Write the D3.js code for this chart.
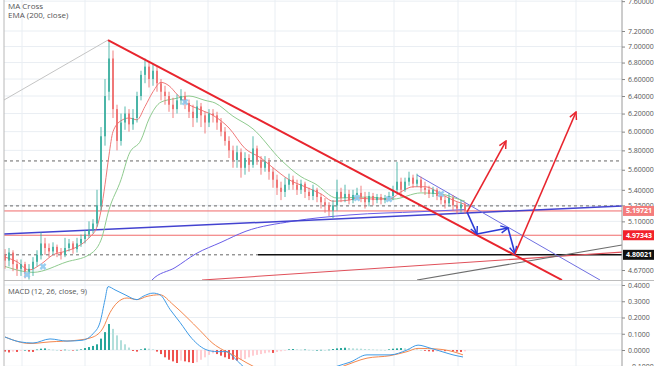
<!DOCTYPE html>
<html><head><meta charset="utf-8">
<script src="https://cdn.jsdelivr.net/npm/d3@7"></script>
<style>body{margin:0;background:#fff}svg{display:block;font-family:"Open Sans",sans-serif}</style>
</head><body><svg id="c" width="654" height="366"></svg>
<script>
// ---------- DATA ----------
const opens=[4.80,4.75,4.82,4.72,4.68,4.72,4.64,4.68,4.74,4.80,4.90,4.86,4.83,4.87,4.82,4.80,4.86,4.90,4.85,4.90,4.94,4.98,
5.02,5.08,5.25,5.95,6.45,6.85,6.25,5.90,6.10,6.20,6.08,6.15,6.40,6.65,6.75,6.60,6.70,6.55,6.45,6.40,6.30,6.25,6.35,6.40,6.32,6.22,6.15,6.28,6.18,6.10,6.20,6.18,6.10,6.00,5.90,5.80,5.70,5.78,5.62,5.72,5.65,5.82,5.70,5.62,5.68,5.58,5.50,5.42,5.38,5.45,5.50,5.45,5.40,5.46,5.38,5.34,5.40,5.33,5.28,5.25,5.20,5.25,5.38,5.32,5.36,5.30,5.35,5.37,5.33,5.28,5.34,5.30,5.33,5.30,5.32,5.34,5.40,5.48,5.40,5.48,5.52,5.46,5.50,5.42,5.40,5.36,5.40,5.34,5.30,5.27,5.32,5.25,5.22,5.26];
const closes=[4.75,4.82,4.72,4.68,4.72,4.64,4.68,4.74,4.80,4.90,4.86,4.83,4.87,4.82,4.80,4.86,4.90,4.85,4.90,4.94,4.98,5.02,
5.08,5.25,5.95,6.40,6.85,6.25,5.90,6.10,6.20,6.08,6.15,6.40,6.65,6.75,6.60,6.70,6.55,6.45,6.40,6.30,6.25,6.35,6.40,6.32,6.22,6.15,6.28,6.18,6.10,6.20,6.18,6.10,6.00,5.90,5.80,5.70,5.78,5.62,5.72,5.65,5.82,5.70,5.62,5.68,5.58,5.50,5.42,5.38,5.45,5.50,5.45,5.40,5.46,5.38,5.34,5.40,5.33,5.28,5.25,5.20,5.25,5.38,5.32,5.36,5.30,5.35,5.37,5.33,5.28,5.34,5.30,5.33,5.30,5.32,5.34,5.40,5.48,5.40,5.48,5.52,5.46,5.50,5.42,5.40,5.36,5.40,5.34,5.30,5.27,5.32,5.25,5.22,5.26,5.20];
const highs=[4.85,4.86,4.84,4.76,4.76,4.74,4.72,4.78,4.84,5.00,4.95,4.90,4.91,4.89,4.86,4.95,4.94,4.92,4.95,4.98,5.02,5.10,
5.12,5.40,6.05,6.60,7.08,6.95,6.30,6.20,6.28,6.25,6.25,6.45,6.70,6.85,6.82,6.78,6.75,6.60,6.52,6.45,6.38,6.42,6.48,6.45,6.36,6.30,6.35,6.32,6.22,6.25,6.25,6.22,6.15,6.05,5.95,5.85,5.85,5.82,5.78,5.76,5.95,5.85,5.74,5.74,5.72,5.62,5.55,5.48,5.52,5.56,5.54,5.50,5.50,5.48,5.42,5.45,5.42,5.36,5.32,5.28,5.30,5.50,5.42,5.45,5.40,5.40,5.42,5.44,5.38,5.38,5.37,5.36,5.36,5.35,5.38,5.44,5.68,5.52,5.52,5.58,5.55,5.56,5.53,5.48,5.44,5.43,5.42,5.38,5.34,5.37,5.35,5.28,5.30,5.28];
const lows=[4.68,4.70,4.66,4.62,4.62,4.60,4.59,4.62,4.70,4.76,4.80,4.78,4.80,4.78,4.76,4.78,4.83,4.81,4.82,4.87,4.90,4.95,
4.99,5.05,5.20,5.85,6.35,6.15,5.80,5.85,6.02,6.00,6.02,6.10,6.35,6.55,6.50,6.52,6.45,6.35,6.30,6.22,6.15,6.20,6.30,6.25,6.15,6.05,6.10,6.05,5.98,6.05,6.10,6.02,5.95,5.85,5.72,5.62,5.62,5.52,5.55,5.58,5.62,5.65,5.55,5.58,5.50,5.42,5.35,5.30,5.33,5.40,5.40,5.35,5.36,5.32,5.30,5.30,5.28,5.22,5.18,5.15,5.13,5.20,5.28,5.28,5.26,5.27,5.30,5.28,5.22,5.24,5.25,5.27,5.26,5.27,5.29,5.30,5.36,5.33,5.38,5.44,5.42,5.43,5.38,5.35,5.32,5.33,5.30,5.26,5.22,5.24,5.20,5.17,5.18,5.17];

// moving averages, read as [bar, price]
const maFast=[[0,4.78],[3,4.74],[6,4.67],[9,4.72],[12,4.80],[15,4.83],[18,4.87],[21,4.95],[23,5.05],[24,5.2],[25,5.45],[26,5.75],[27,6.0],[29,6.12],[31,6.15],[33,6.13],[35,6.28],[37,6.45],[39,6.56],[41,6.52],[43,6.42],[45,6.33],[49,6.24],[52,6.18],[56,6.04],[60,5.82],[64,5.72],[67,5.62],[71,5.50],[75,5.43],[79,5.36],[82,5.29],[86,5.30],[88,5.32],[92,5.31],[96,5.31],[99,5.38],[102,5.43],[105,5.43],[109,5.36],[112,5.30],[115,5.26]];
const maSlow=[[0,4.70],[7,4.65],[15.5,4.74],[21,4.80],[24,4.93],[26,5.21],[29,5.50],[31,5.76],[34,5.91],[36,6.14],[39,6.33],[42.5,6.37],[46,6.40],[50,6.35],[52.5,6.32],[57,6.17],[62,6.03],[69,5.70],[74,5.53],[77.5,5.46],[83,5.32],[90.5,5.33],[97,5.31],[104,5.37],[109,5.36],[112.5,5.32],[115,5.29]];
const ema200=[[33.75,4.42],[36.75,4.586],[42.5,4.69],[47.75,4.81],[54,4.91],[60.25,5.01],[71.75,5.10],[86.25,5.16],[103.75,5.19],[115,5.21]];
const maCrosses=[[5.5,4.63],[9.5,4.70],[45,6.33],[88,5.32],[96,5.31],[109,5.36]];

// MACD (12, 26, close, 9)
const macdLine=[[0,0.08],[3.75,0.05],[7,0.043],[11.25,0.068],[15.5,0.055],[19.25,0.06],[22,0.10],[23.75,0.17],[25,0.31],[25.75,0.39],[27.5,0.37],[30,0.34],[33,0.31],[34.5,0.33],[37,0.35],[38.75,0.34],[41.25,0.25],[43.75,0.17],[46.75,0.07],[50.5,0.0],[53,-0.01],[55.5,-0.01],[57,-0.04],[59.5,-0.1],[63.75,-0.15],[71.25,-0.19],[77.5,-0.16],[83,-0.1],[86.25,-0.075],[90.5,-0.03],[96.25,-0.03],[100.5,0.0],[103.25,0.03],[106.25,0.012],[109.5,-0.012],[112,-0.03],[114.5,-0.043]];
const signalLine=[[0,0.08],[6.25,0.04],[11.25,0.05],[18,0.06],[22,0.08],[24.5,0.135],[26.25,0.23],[28,0.29],[30.5,0.32],[33,0.31],[35.5,0.33],[38.75,0.34],[42,0.28],[45.5,0.20],[48.75,0.12],[52,0.04],[54.5,0.0],[57,-0.03],[60.5,-0.08],[63.75,-0.12],[71.25,-0.17],[78.75,-0.15],[84.5,-0.1],[90.5,-0.05],[96.25,-0.035],[100.5,-0.01],[103.25,0.01],[108,0.006],[112,-0.01],[114.5,-0.03]];
const histogram=[-0.01,-0.015,-0.01,-0.012,-0.005,0,-0.01,-0.012,0.003,0.008,0.01,0.006,0.002,0,-0.002,0.002,0,-0.002,0.001,0.004,0.012,0.018,
0.025,0.035,0.07,0.11,0.16,0.13,0.09,0.06,0.035,0.015,-0.006,-0.01,0.004,0.01,0.008,0.004,-0.01,-0.025,-0.045,-0.06,-0.07,-0.08,-0.065,-0.07,-0.075,-0.08,-0.075,-0.06,-0.045,-0.03,-0.02,-0.025,-0.035,-0.045,-0.055,-0.06,-0.065,-0.06,-0.055,-0.045,-0.035,-0.03,-0.025,-0.02,-0.015,-0.018,-0.012,-0.008,-0.004,0.004,0.006,0.004,0.002,0.003,0.001,0,0,0.001,0,0.002,0.006,0.01,0.012,0.014,0.012,0.01,0.009,0.008,0.006,0.005,0.003,0.002,0.001,0,0.004,0.008,0.01,0.012,0.01,0.008,0.006,0.004,0,-0.005,-0.008,-0.01,-0.008,-0.006,-0.007,-0.005,-0.008,-0.01,-0.012,-0.008];

// axis ticks
const priceTicks=[7.6,7.2,7.0,6.8,6.6,6.4,6.2,6.0,5.8,5.6,5.4,5.25,5.1,4.67];
const macdTicks=[0.4,0.3,0.2,0.1,0.0,-0.1];
const timeGrid=[4.25,20,36.25,50.75,67.5,83,97.25,113.25,127.75,142.75];

// drawings, [bar, price]
const greyRise=[[-0.25,6.354],[25.75,7.083]];
const mainTrend=[[25.75,7.083],[139.25,4.586]];
const blueTrend=[[-0.25,4.985],[154.25,5.244]];
const blueChannel=[[103,5.547],[148.75,4.586]];
const redRise=[[49.25,4.586],[154.25,4.824]];
const greyRise2=[[103,4.586],[154.25,4.886]];
const bluePath=[[115.5,5.187],[118,4.984],[125.75,5.039],[127.5,4.809]];
const redArrow1=[[115.5,5.187],[125.25,5.899]];
const redArrow2=[[127.5,4.809],[142.75,6.218]];
const redLevels=[5.19721,4.97343];
const blackLevel=4.80021;
const dashedLevels=[5.69,5.245];
const titleLines=["Fantom / Tether, 1D, Mixed","MA Cross","EMA (200, close)"];
const macdTitle="MACD (12, 26, close, 9)";

// ---------- DRAW ----------
const svg=d3.select("#c");
const L=4, R=622, T=0, B=280, MT=281, MB=366;
const x=d3.scaleLinear().domain([0,115]).range([5,465]);
const y=d3.scaleLog().domain([4.67,7.2]).range([270,31]);
const ym=d3.scaleLinear().domain([0,0.4]).range([350,285]);

const defs=svg.append("defs");
defs.append("clipPath").attr("id","cm").append("rect").attr("x",L).attr("y",T).attr("width",R-L).attr("height",B-T);
defs.append("clipPath").attr("id","cd").append("rect").attr("x",L).attr("y",MT).attr("width",R-L).attr("height",MB-MT);
function marker(id,col){
  defs.append("marker").attr("id",id).attr("viewBox","0 0 10 10").attr("refX",9).attr("refY",5)
   .attr("markerWidth",9).attr("markerHeight",9).attr("markerUnits","userSpaceOnUse").attr("orient","auto")
   .append("path").attr("d","M1,1 L9,5 L1,9").attr("fill","none").attr("stroke",col).attr("stroke-width",1.6);
}
marker("mb","#2b3bd6"); marker("mr","#e8252e");

// grid
const grid=svg.append("g");
grid.selectAll(".vg").data(timeGrid).join("line").attr("x1",d=>x(d)).attr("x2",d=>x(d)).attr("y1",0).attr("y2",MB)
  .attr("stroke","#e9eef3").attr("stroke-width",1);
grid.selectAll(".hg").data(priceTicks).join("line").attr("x1",L).attr("x2",R).attr("y1",d=>y(d)).attr("y2",d=>y(d))
  .attr("stroke","#e9eef3");
grid.selectAll(".mg").data(macdTicks).join("line").attr("x1",L).attr("x2",R).attr("y1",d=>ym(d)).attr("y2",d=>ym(d))
  .attr("stroke","#e9eef3");

const main=svg.append("g").attr("clip-path","url(#cm)");
const lineP=d3.line().x(d=>x(d[0])).y(d=>y(d[1]));
const curveP=d3.line().x(d=>x(d[0])).y(d=>y(d[1])).curve(d3.curveMonotoneX);

// level lines
main.selectAll(".dl").data(dashedLevels).join("line").attr("x1",L).attr("x2",R).attr("y1",d=>y(d)).attr("y2",d=>y(d))
  .attr("stroke","#666").attr("stroke-dasharray","3,3").attr("stroke-width",1);
main.append("line").attr("x1",L).attr("x2",x(63.25)).attr("y1",y(blackLevel)).attr("y2",y(blackLevel))
  .attr("stroke","#666").attr("stroke-dasharray","3,3");
main.append("line").attr("x1",x(63.25)).attr("x2",R).attr("y1",y(blackLevel)).attr("y2",y(blackLevel))
  .attr("stroke","#111").attr("stroke-width",1.6);
main.selectAll(".rl").data(redLevels).join("line").attr("x1",L).attr("x2",R).attr("y1",d=>y(d)).attr("y2",d=>y(d))
  .attr("stroke","#f06a6a").attr("stroke-width",1);

// rising helper lines
main.append("path").attr("d",lineP(greyRise)).attr("stroke","#c4c4c4").attr("fill","none").attr("stroke-width",1);
main.append("path").attr("d",lineP(redRise)).attr("stroke","#e0505a").attr("fill","none").attr("stroke-width",1.1);
main.append("path").attr("d",lineP(greyRise2)).attr("stroke","#6d6d6d").attr("fill","none").attr("stroke-width",1.1);

// EMA 200 and blue trend
main.append("path").attr("d",curveP(ema200)).attr("stroke","#6a5ee8").attr("fill","none").attr("stroke-width",1);
main.append("path").attr("d",lineP(blueTrend)).attr("stroke","#4343d0").attr("fill","none").attr("stroke-width",1.5);
main.append("path").attr("d",lineP(blueChannel)).attr("stroke","#6f6fe0").attr("fill","none").attr("stroke-width",1);

// MA lines
main.append("path").attr("d",curveP(maSlow)).attr("stroke","#8fcb8f").attr("fill","none").attr("stroke-width",1);
main.append("path").attr("d",curveP(maFast)).attr("stroke","#f07a7a").attr("fill","none").attr("stroke-width",1);

// candles
const cg=main.append("g");
const idx=d3.range(closes.length);
const col=i=>closes[i]>=opens[i]?"#3aae9f":"#ef6a6a";
cg.selectAll(".w").data(idx).join("line").attr("x1",i=>x(i)).attr("x2",i=>x(i))
  .attr("y1",i=>y(highs[i])).attr("y2",i=>y(lows[i])).attr("stroke",col).attr("stroke-width",1).attr("opacity",0.85);
cg.selectAll(".b").data(idx).join("rect").attr("x",i=>x(i)-1).attr("width",2)
  .attr("y",i=>y(Math.max(opens[i],closes[i])))
  .attr("height",i=>Math.max(1,Math.abs(y(opens[i])-y(closes[i])))).attr("fill",col).attr("opacity",0.85);

// MA cross markers
main.selectAll(".mx").data(maCrosses).join("path")
  .attr("d",d3.symbol(d3.symbolAsterisk? d3.symbolCross : d3.symbolCross,30))
  .attr("transform",d=>`translate(${x(d[0])},${y(d[1])}) rotate(45)`).attr("fill","#8ec9f0").attr("opacity",0.9);

// main descending trendline
main.append("path").attr("d",lineP(mainTrend)).attr("stroke","#e8252e").attr("fill","none").attr("stroke-width",2);

// arrows
for(let k=0;k<bluePath.length-1;k++){
  main.append("path").attr("d",lineP([bluePath[k],bluePath[k+1]])).attr("stroke","#2b3bd6")
   .attr("stroke-width",1.6).attr("fill","none").attr("marker-end","url(#mb)");
}
[redArrow1,redArrow2].forEach(a=>main.append("path").attr("d",lineP(a)).attr("stroke","#e8252e")
  .attr("stroke-width",1.6).attr("fill","none").attr("marker-end","url(#mr)"));

// MACD pane
const mg=svg.append("g").attr("clip-path","url(#cd)");
const hc=(v,i)=>{const p=i>0?histogram[i-1]:0;
  if(v>=0) return v>=p?"#26a69a":"#b2dfdb"; return v<=p?"#ef5350":"#ffcdd2";};
mg.selectAll(".h").data(histogram).join("rect").attr("x",(d,i)=>x(i)-1).attr("width",2)
  .attr("y",d=>d>=0?ym(d):ym(0)).attr("height",d=>Math.max(0.6,Math.abs(ym(d)-ym(0))))
  .attr("fill",(d,i)=>hc(d,i));
const lm=d3.line().x(d=>x(d[0])).y(d=>ym(d[1])).curve(d3.curveMonotoneX);
mg.append("path").attr("d",lm(signalLine)).attr("stroke","#f4884e").attr("fill","none").attr("stroke-width",1);
mg.append("path").attr("d",lm(macdLine)).attr("stroke","#3f9be6").attr("fill","none").attr("stroke-width",1);

// borders
svg.append("line").attr("x1",L).attr("x2",L).attr("y1",0).attr("y2",MB).attr("stroke","#b8b8b8");
svg.append("line").attr("x1",R).attr("x2",R).attr("y1",0).attr("y2",MB).attr("stroke","#9a9a9a");
svg.append("line").attr("x1",L).attr("x2",654).attr("y1",B+0.5).attr("y2",B+0.5).attr("stroke","#bdbdbd");

// price axis
const ax=svg.append("g").attr("transform",`translate(${R},0)`)
  .call(d3.axisRight(y).tickValues(priceTicks).tickFormat(d3.format(".5f")).tickSize(3).tickPadding(3));
ax.select(".domain").remove();
ax.selectAll("text").attr("font-size",7).attr("fill","#555").attr("font-family","'Open Sans',sans-serif");
ax.selectAll("line").attr("stroke","#888");
const am=svg.append("g").attr("transform",`translate(${R},0)`)
  .call(d3.axisRight(ym).tickValues(macdTicks).tickFormat(d3.format(".4f")).tickSize(3).tickPadding(3));
am.select(".domain").remove();
am.selectAll("text").attr("font-size",7).attr("fill","#555").attr("font-family","'Open Sans',sans-serif");
am.selectAll("line").attr("stroke","#888");

// price labels
const tags=[{v:redLevels[0],bg:"#f47c7c"},{v:redLevels[1],bg:"#f2222b"},{v:blackLevel,bg:"#111"}];
const tg=svg.append("g");
tags.forEach(t=>{
  tg.append("rect").attr("x",R+1).attr("y",y(t.v)-5).attr("width",31).attr("height",10).attr("fill",t.bg);
  tg.append("text").attr("x",R+4).attr("y",y(t.v)+2.5).attr("font-size",7).attr("font-weight","bold")
    .attr("fill","#fff").text(d3.format(".5f")(t.v));
});

// titles
svg.selectAll(".tt").data(titleLines).join("text").attr("x",8).attr("y",(d,i)=>-1+i*9.5)
  .attr("font-size",8).attr("fill","#555").text(d=>d);
svg.append("text").attr("x",8).attr("y",294).attr("font-size",7.5).attr("fill","#555").text(macdTitle);
</script></body></html>
